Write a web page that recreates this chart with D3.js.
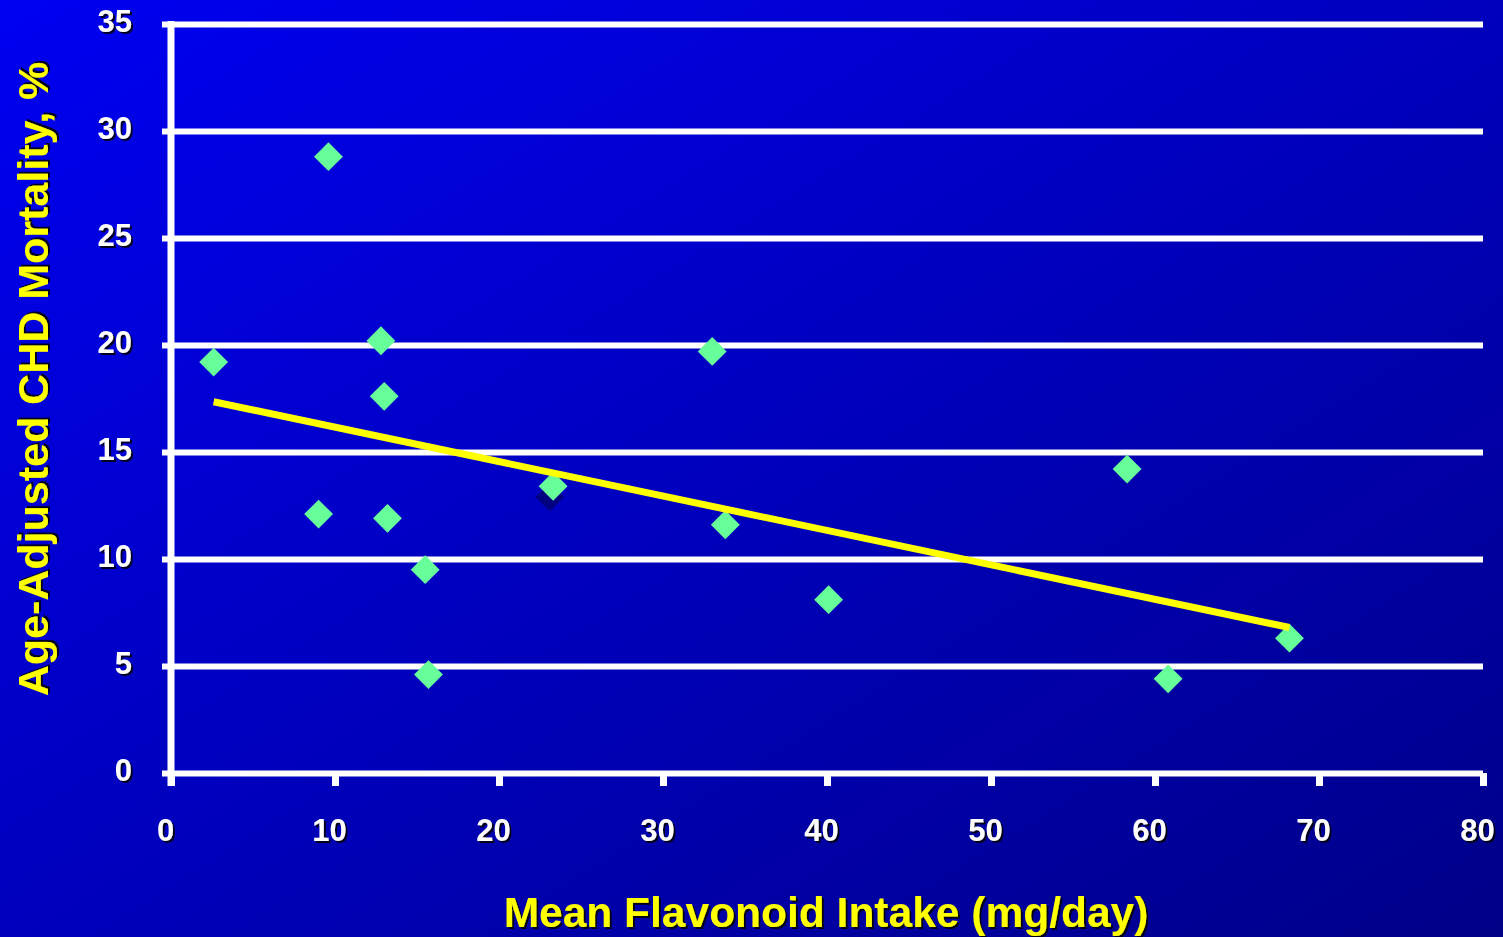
<!DOCTYPE html>
<html>
<head>
<meta charset="utf-8">
<script src="https://cdn.jsdelivr.net/npm/d3@7"></script>
<style>
  html, body { margin: 0; padding: 0; background: #0000c0; }
  svg { display: block; }
  text { font-family: "Liberation Sans", Arial, sans-serif; font-weight: bold; }
</style>
</head>
<body>
<div id="chart"></div>
<script>
// data
const intake    = [2.6, 9.6, 9.0, 12.8, 13.0, 13.2, 15.5, 15.7, 23.3, 33.0, 33.8, 40.1, 58.3, 60.8, 68.2];
const mortality = [19.2, 28.8, 12.1, 20.2, 17.6, 11.9, 9.5, 4.6, 13.4, 19.7, 11.6, 8.1, 14.2, 4.4, 6.3];
// the dark (hidden) marker behind the point near 23
const hiddenX = [23.1];
const hiddenY = [12.9];
// fitted line end points
const trendX = [2.6, 68.2];
const trendY = [17.35, 6.8];
const xTicks = [0, 10, 20, 30, 40, 50, 60, 70, 80];
const yTicks = [0, 5, 10, 15, 20, 25, 30, 35];

const width = 1503, height = 937;
const margin = ({ top: 24, right: 20, bottom: 164, left: 171 });

const x = d3.scaleLinear([0, 80], [margin.left, 1483]);
const y = d3.scaleLinear([0, 35], [773, margin.top]);

const svg = d3.select("#chart").append("svg")
  .attr("width", width)
  .attr("height", height);

const defs = svg.append("defs");
const grad = defs.append("linearGradient")
  .attr("id", "bg")
  .attr("x1", 0).attr("y1", 0).attr("x2", 1).attr("y2", 1);
grad.append("stop").attr("offset", 0).attr("stop-color", "#0000f2");
grad.append("stop").attr("offset", 1).attr("stop-color", "#000088");

const shadow = defs.append("filter").attr("id", "shadow")
  .attr("x", -0.1).attr("y", -0.1).attr("width", 1.2).attr("height", 1.3);
shadow.append("feDropShadow")
  .attr("dx", 2).attr("dy", 2).attr("stdDeviation", 0.6)
  .attr("flood-color", "#000000").attr("flood-opacity", 0.85);

svg.append("rect")
  .attr("width", width).attr("height", height)
  .attr("fill", "url(#bg)");

// horizontal grid lines with the small outside ticks
const yAxis = d3.axisLeft(y)
  .tickValues(yTicks)
  .tickSize(-(x(80) - x(0)))
  .tickSizeOuter(0)
  .tickPadding(39)
  .tickFormat(d3.format("d"));

const gy = svg.append("g")
  .attr("transform", `translate(${x(0)},0)`)
  .call(yAxis);
gy.select(".domain").remove();
gy.selectAll(".tick line")
  .attr("x1", -9)
  .attr("stroke", "#ffffff")
  .attr("stroke-width", 6);
gy.selectAll(".tick text")
  .attr("fill", "#ffffff")
  .attr("font-size", 31)
  .attr("dy", "0.25em")
  .attr("font-family", "Liberation Sans, Arial, sans-serif")
  .attr("font-weight", "bold")
  .attr("filter", "url(#shadow)");

// x axis with downward ticks
const xAxis = d3.axisBottom(x)
  .tickValues(xTicks)
  .tickSize(13)
  .tickSizeOuter(0)
  .tickPadding(33);

const gx = svg.append("g")
  .attr("transform", `translate(0,${y(0)})`)
  .call(xAxis);
gx.select(".domain").remove();
gx.selectAll(".tick line")
  .attr("stroke", "#ffffff")
  .attr("stroke-width", 7);
gx.selectAll(".tick text")
  .attr("x", -6)
  .attr("fill", "#ffffff")
  .attr("font-size", 31)
  .attr("font-family", "Liberation Sans, Arial, sans-serif")
  .attr("font-weight", "bold")
  .attr("filter", "url(#shadow)");

// vertical axis line
svg.append("line")
  .attr("x1", x(0)).attr("x2", x(0))
  .attr("y1", y(35) - 3).attr("y2", y(0) + 13)
  .attr("stroke", "#ffffff")
  .attr("stroke-width", 7);

// points
const diamond = d3.symbol().type(d3.symbolDiamond2).size(530);

svg.append("g")
  .selectAll("path")
  .data(d3.zip(hiddenX, hiddenY))
  .join("path")
  .attr("transform", d => `translate(${x(d[0])},${y(d[1])})`)
  .attr("d", diamond)
  .attr("fill", "#000080");

svg.append("g")
  .selectAll("path")
  .data(d3.zip(intake, mortality))
  .join("path")
  .attr("transform", d => `translate(${x(d[0])},${y(d[1])})`)
  .attr("d", diamond)
  .attr("fill", "#66ff99");

// trend line
svg.append("path")
  .datum(d3.zip(trendX, trendY))
  .attr("d", d3.line().x(d => x(d[0])).y(d => y(d[1])))
  .attr("fill", "none")
  .attr("stroke", "#ffff00")
  .attr("stroke-width", 7);

// axis titles
svg.append("text")
  .attr("x", 826)
  .attr("y", 927)
  .attr("text-anchor", "middle")
  .attr("font-size", 42.5)
  .attr("fill", "#ffff00")
  .attr("filter", "url(#shadow)")
  .text("Mean Flavonoid Intake (mg/day)");

svg.append("text")
  .attr("transform", "translate(48,379) rotate(-90)")
  .attr("text-anchor", "middle")
  .attr("font-size", 43)
  .attr("fill", "#ffff00")
  .attr("filter", "url(#shadow)")
  .text("Age-Adjusted CHD Mortality, %");
</script>
</body>
</html>
